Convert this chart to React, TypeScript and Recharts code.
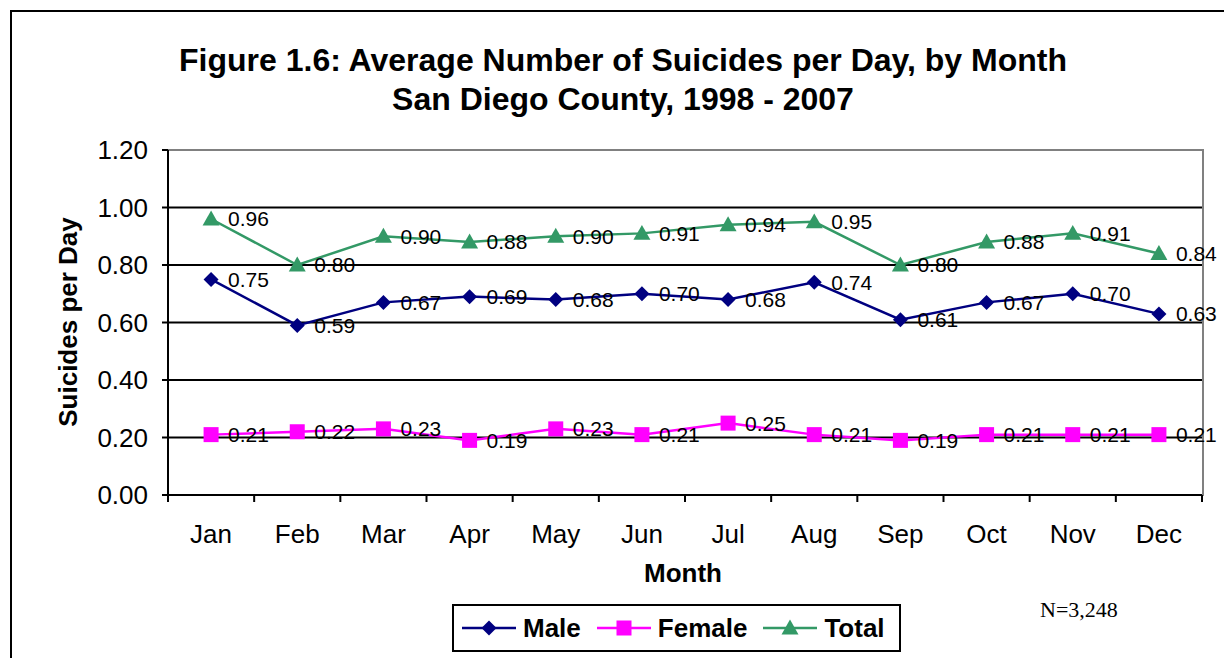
import React from "react";
import {
  LineChart,
  Line,
  XAxis,
  YAxis,
  CartesianGrid,
  LabelList,
} from "recharts";

const months = ["Jan", "Feb", "Mar", "Apr", "May", "Jun", "Jul", "Aug", "Sep", "Oct", "Nov", "Dec"];
const male = [0.75, 0.59, 0.67, 0.69, 0.68, 0.7, 0.68, 0.74, 0.61, 0.67, 0.7, 0.63];
const female = [0.21, 0.22, 0.23, 0.19, 0.23, 0.21, 0.25, 0.21, 0.19, 0.21, 0.21, 0.21];
const total = [0.96, 0.8, 0.9, 0.88, 0.9, 0.91, 0.94, 0.95, 0.8, 0.88, 0.91, 0.84];
const yTicks = [0, 0.2, 0.4, 0.6, 0.8, 1.0, 1.2];
const gridValues = [0.2, 0.4, 0.6, 0.8, 1.0];

const data = months.map((m, i) => ({ month: m, male: male[i], female: female[i], total: total[i] }));

const MALE = "#000080";
const FEMALE = "#FF00FF";
const TOTAL = "#339966";
const FONT = "Arial, 'Liberation Sans', Helvetica, sans-serif";

const W = 1224;
const H = 658;
const PLOT_LEFT = 168;
const PLOT_RIGHT = 1202;
const PLOT_TOP = 150;
const PLOT_BOTTOM = 495;
const Y_AXIS_W = 80;
const X_AXIS_H = 50;
const BAND = (PLOT_RIGHT - PLOT_LEFT) / months.length;

// marker shapes; "size" is used instead of "r" because recharts passes its own r to dots
const Diamond = ({ cx, cy, fill, size = 7.5 }: any) =>
  cx == null ? null : (
    <path d={`M${cx},${cy - size}L${cx + size},${cy}L${cx},${cy + size}L${cx - size},${cy}Z`} fill={fill} />
  );
const Square = ({ cx, cy, fill, size = 7.5 }: any) =>
  cx == null ? null : <rect x={cx - size} y={cy - size} width={size * 2} height={size * 2} fill={fill} />;
const Triangle = ({ cx, cy, fill, size = 8.5 }: any) =>
  cx == null ? null : (
    <path d={`M${cx},${cy - size}L${cx + size},${cy + size * 0.75}L${cx - size},${cy + size * 0.75}Z`} fill={fill} />
  );

// month labels plus Excel-style tick marks on the category boundaries
const MonthTick = ({ x, y, payload, index }: any) => (
  <g>
    <line x1={x - BAND / 2} x2={x - BAND / 2} y1={y} y2={y + 7} stroke="#000" strokeWidth={2} />
    {index === months.length - 1 && (
      <line x1={x + BAND / 2} x2={x + BAND / 2} y1={y} y2={y + 7} stroke="#000" strokeWidth={2} />
    )}
    <text x={x} y={y + 39} textAnchor="middle" dominantBaseline="central" fontSize={26} fill="#000" fontFamily={FONT}>
      {payload.value}
    </text>
  </g>
);

const fmt = (v: any) => Number(v).toFixed(2);

const LegendItem = ({ color, label, Icon, gap }: any) => (
  <div style={{ display: "flex", alignItems: "center", marginRight: gap }}>
    <svg width={58} height={20}>
      <line x1={2} x2={56} y1={10} y2={10} stroke={color} strokeWidth={2.5} />
      <Icon cx={29} cy={10} fill={color} />
    </svg>
    <span style={{ fontWeight: "bold", fontSize: 26, marginLeft: 5 }}>{label}</span>
  </div>
);

export default function App() {
  const labelProps = {
    position: "right" as const,
    offset: 17,
    formatter: fmt,
    fontSize: 21,
    fill: "#000",
    fontFamily: FONT,
  };

  return (
    <div style={{ position: "absolute", left: 0, top: 0, width: W, height: H, background: "#fff", fontFamily: FONT, overflow: "hidden" }}>
      <div style={{ position: "absolute", left: 10, top: 10, width: W, height: H, borderLeft: "2px solid #000", borderTop: "2px solid #000" }} />
      <div style={{ position: "absolute", left: 0, top: 41, width: 1246, textAlign: "center", fontWeight: "bold", fontSize: 32, lineHeight: "39px" }}>
        Figure 1.6: Average Number of Suicides per Day, by Month
        <br />
        San Diego County, 1998 - 2007
      </div>

      {/* grey plot-area frame on the top and right sides */}
      <div
        style={{
          position: "absolute",
          left: PLOT_LEFT,
          top: PLOT_TOP - 1,
          width: PLOT_RIGHT - PLOT_LEFT,
          height: PLOT_BOTTOM - PLOT_TOP,
          borderTop: "2px solid #808080",
          borderRight: "2px solid #808080",
        }}
      />

      <div style={{ position: "absolute", left: 0, top: 0 }}>
        <LineChart
          width={W}
          height={H}
          data={data}
          margin={{ top: PLOT_TOP, right: W - PLOT_RIGHT, bottom: H - PLOT_BOTTOM - X_AXIS_H, left: PLOT_LEFT - Y_AXIS_W }}
        >
          <CartesianGrid horizontal vertical={false} horizontalValues={gridValues} stroke="#000" strokeWidth={2} />
          <XAxis
            dataKey="month"
            height={X_AXIS_H}
            padding={{ left: BAND / 2, right: BAND / 2 }}
            axisLine={{ stroke: "#000", strokeWidth: 2 }}
            tickLine={false}
            tickSize={0}
            tickMargin={0}
            interval={0}
            tick={<MonthTick />}
          />
          <YAxis
            width={Y_AXIS_W}
            domain={[0, 1.2]}
            ticks={yTicks}
            tickFormatter={fmt}
            axisLine={{ stroke: "#000", strokeWidth: 2 }}
            tickLine={{ stroke: "#000", strokeWidth: 2 }}
            tickSize={6}
            tickMargin={14}
            tick={{ fontSize: 26, fill: "#000", fontFamily: FONT }}
            interval={0}
          />
          <Line dataKey="female" stroke={FEMALE} strokeWidth={2.5} dot={<Square fill={FEMALE} />} isAnimationActive={false}>
            <LabelList dataKey="female" {...labelProps} />
          </Line>
          <Line dataKey="male" stroke={MALE} strokeWidth={2.5} dot={<Diamond fill={MALE} />} isAnimationActive={false}>
            <LabelList dataKey="male" {...labelProps} />
          </Line>
          <Line dataKey="total" stroke={TOTAL} strokeWidth={2.5} dot={<Triangle fill={TOTAL} />} isAnimationActive={false}>
            <LabelList dataKey="total" {...labelProps} />
          </Line>
        </LineChart>
      </div>

      <div style={{ position: "absolute", left: 68, top: 322, transform: "translate(-50%, -50%) rotate(-90deg)", whiteSpace: "nowrap", fontWeight: "bold", fontSize: 26 }}>
        Suicides per Day
      </div>
      <div style={{ position: "absolute", left: 683, top: 573, transform: "translate(-50%, -50%)", fontWeight: "bold", fontSize: 26 }}>
        Month
      </div>

      <div
        style={{
          position: "absolute",
          left: 452,
          top: 604,
          width: 449,
          height: 48,
          boxSizing: "border-box",
          border: "2px solid #000",
          display: "flex",
          alignItems: "center",
          paddingLeft: 6,
        }}
      >
        <LegendItem color={MALE} label="Male" Icon={Diamond} gap={14} />
        <LegendItem color={FEMALE} label="Female" Icon={Square} gap={14} />
        <LegendItem color={TOTAL} label="Total" Icon={Triangle} gap={0} />
      </div>

      <div style={{ position: "absolute", left: 1040, top: 597, fontFamily: "'Times New Roman', 'Liberation Serif', serif", fontSize: 22 }}>
        N=3,248
      </div>
    </div>
  );
}
